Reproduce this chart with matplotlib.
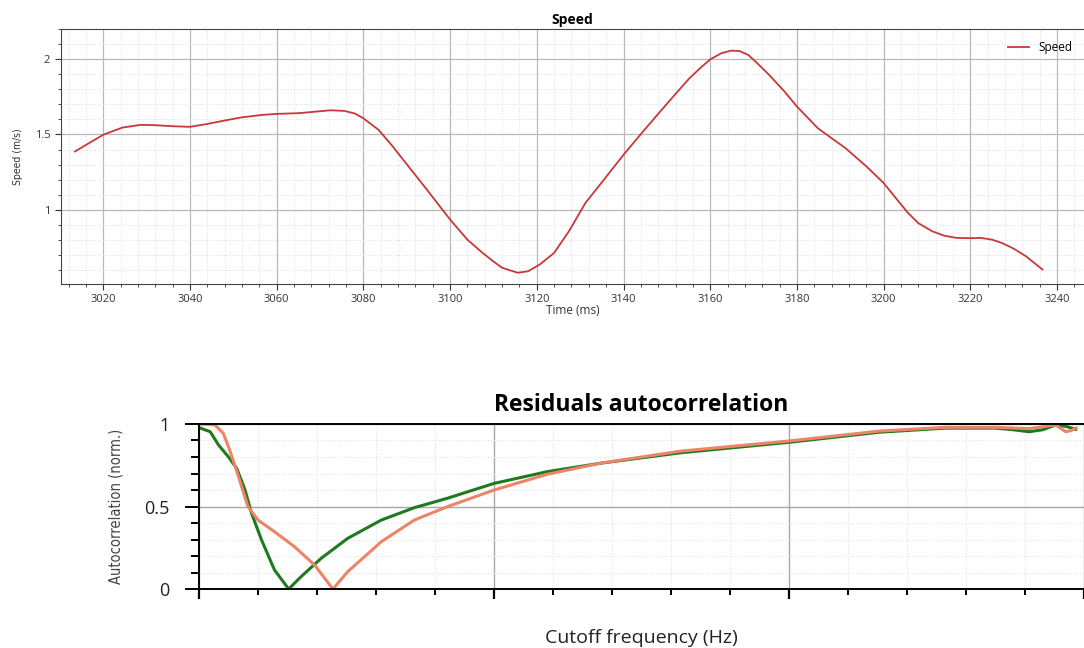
import matplotlib.pyplot as plt
from matplotlib.ticker import MultipleLocator, NullFormatter, FuncFormatter

plt.rcParams['font.family'] = ['Open Sans', 'DejaVu Sans']

# Speed vs time
time_ms = [3013.5, 3016, 3020, 3024.4, 3028.7, 3031.9, 3036, 3040, 3043.8, 3047.5,
           3051.7, 3056.5, 3060, 3065.2, 3069, 3072.4, 3075.6, 3078, 3080, 3083.5,
           3086.5, 3089.8, 3095, 3100, 3104, 3107.5, 3110, 3112, 3115.6, 3118,
           3120.7, 3124, 3127.5, 3131.2, 3135.5, 3140, 3144.5, 3148.8, 3152, 3155.2,
           3158, 3160, 3162.5, 3164.8, 3166.8, 3168.8, 3171, 3173.6, 3177, 3180,
           3184.8, 3188, 3191.2, 3196, 3200, 3203, 3205.6, 3208, 3211.2, 3214,
           3216.8, 3220, 3222.4, 3225, 3227.2, 3230, 3232.8, 3236.6]
speed = [1.387, 1.43, 1.498, 1.546, 1.564, 1.562, 1.555, 1.551, 1.569, 1.59,
         1.613, 1.630, 1.637, 1.642, 1.652, 1.661, 1.657, 1.64, 1.608, 1.531,
         1.43, 1.31, 1.12, 0.934, 0.80, 0.712, 0.655, 0.613, 0.58, 0.59,
         0.635, 0.712, 0.86, 1.044, 1.20, 1.365, 1.52, 1.664, 1.77, 1.874,
         1.95, 2.0, 2.04, 2.058, 2.055, 2.029, 1.97, 1.896, 1.79, 1.686,
         1.542, 1.475, 1.409, 1.288, 1.177, 1.07, 0.978, 0.91, 0.856, 0.826,
         0.812, 0.810, 0.812, 0.80, 0.779, 0.74, 0.69, 0.602]

# Residual autocorrelation vs cutoff frequency
freq_green = [0.03, 0.19, 0.33, 0.50, 0.64, 0.78, 0.89, 1.06, 1.28, 1.52,
              1.73, 2.07, 2.52, 3.09, 3.65, 4.21, 5.0, 5.9, 6.8, 8.15,
              10.0, 11.53, 12.66, 13.5, 13.8, 14.07, 14.3, 14.52, 14.7, 14.86]
acorr_green = [0.974, 0.953, 0.873, 0.80, 0.73, 0.60, 0.459, 0.297, 0.115, 0.0,
               0.075, 0.186, 0.307, 0.418, 0.493, 0.55, 0.64, 0.711, 0.762, 0.825,
               0.889, 0.95, 0.975, 0.975, 0.965, 0.953, 0.965, 0.994, 0.985, 0.968]
freq_orange = [0.03, 0.27, 0.41, 0.52, 0.67, 0.83, 1.0, 1.28, 1.62, 1.96,
               2.27, 2.52, 3.09, 3.65, 4.21, 5.0, 5.9, 6.8, 8.15, 10.0,
               11.53, 12.66, 13.5, 14.07, 14.52, 14.6, 14.69, 14.78, 14.86]
acorr_orange = [1.0, 0.994, 0.944, 0.842, 0.68, 0.499, 0.418, 0.347, 0.256, 0.145,
                0.0, 0.105, 0.287, 0.418, 0.499, 0.60, 0.695, 0.762, 0.835, 0.897,
                0.957, 0.98, 0.98, 0.972, 0.994, 0.975, 0.953, 0.96, 0.975]

fmt_g = FuncFormatter(lambda v, p: '%g' % v)
narrow = dict(family='DejaVu Sans', fontstretch='condensed')

fig = plt.figure(figsize=(10.84, 6.48), dpi=100)

# ---- top: speed ----
ax1 = fig.add_axes([0.056, 0.5617, 0.944, 0.3931])
ax1.plot(time_ms, speed, color='#c8373a', lw=1.3, label='Speed')
ax1.set_xlim(3010.2, 3246.2)
ax1.set_ylim(0.505, 2.2)
ax1.xaxis.set_major_locator(MultipleLocator(20))
ax1.xaxis.set_minor_locator(MultipleLocator(4))
ax1.yaxis.set_major_locator(MultipleLocator(0.5))
ax1.yaxis.set_minor_locator(MultipleLocator(0.1))
ax1.yaxis.set_major_formatter(fmt_g)
ax1.grid(which='major', color='#b8b8b8', lw=0.9)
ax1.grid(which='minor', color='#dddddd', lw=0.7, ls=':')
ax1.tick_params(which='major', length=4, labelsize=8, colors='#333333')
ax1.tick_params(which='minor', length=2.5, colors='#333333')
ax1.spines['right'].set_visible(False)
for s in ['top', 'left', 'bottom']:
    ax1.spines[s].set_color('#444444')
ax1.set_title('Speed', fontsize=10, fontweight='bold', pad=4)
ax1.set_xlabel('Time (ms)', fontsize=8.5, labelpad=-1, color='#333333')
ax1.set_ylabel('Speed (m/s)', fontsize=7.5, color='#333333', labelpad=8, **narrow)
ax1.legend(loc='upper right', fontsize=8.5, frameon=False, handlelength=1.8,
           borderaxespad=0.6)

# ---- bottom: residuals autocorrelation ----
ax2 = fig.add_axes([0.1836, 0.0910, 0.8164, 0.2547])
ax2.plot(freq_green, acorr_green, color='#1f7a1f', lw=2.2)
ax2.plot(freq_orange, acorr_orange, color='#ec8468', lw=2.2)
ax2.set_xlim(0, 15)
ax2.set_ylim(0, 1)
ax2.xaxis.set_major_locator(MultipleLocator(5))
ax2.xaxis.set_minor_locator(MultipleLocator(1))
ax2.xaxis.set_major_formatter(NullFormatter())
ax2.yaxis.set_major_locator(MultipleLocator(0.5))
ax2.yaxis.set_minor_locator(MultipleLocator(0.1))
ax2.yaxis.set_major_formatter(fmt_g)
ax2.grid(which='major', color='#a8a8a8', lw=1.0)
ax2.grid(which='minor', color='#e2e2e2', lw=0.8, ls=':')
ax2.tick_params(axis='y', which='major', length=10, width=1.4, labelsize=13, pad=11,
                labelcolor='#222222')
ax2.tick_params(axis='y', which='minor', length=6, width=1.4)
ax2.tick_params(axis='x', which='major', length=7, width=1.6)
ax2.tick_params(axis='x', which='minor', length=4, width=1.4)
ax2.spines['right'].set_visible(False)
for s in ['top', 'left', 'bottom']:
    ax2.spines[s].set_linewidth(1.4)
ax2.set_title('Residuals autocorrelation', fontsize=16.5, fontweight='bold', pad=9)
ax2.set_xlabel('Cutoff frequency (Hz)', fontsize=14, color='#222222')
ax2.xaxis.set_label_coords(0.5, -0.24)
ax2.set_ylabel('Autocorrelation (norm.)', fontsize=10.5, color='#444444', **narrow)
ax2.yaxis.set_label_coords(-0.085, 0.5)

fig.savefig('out.png', dpi=100)
